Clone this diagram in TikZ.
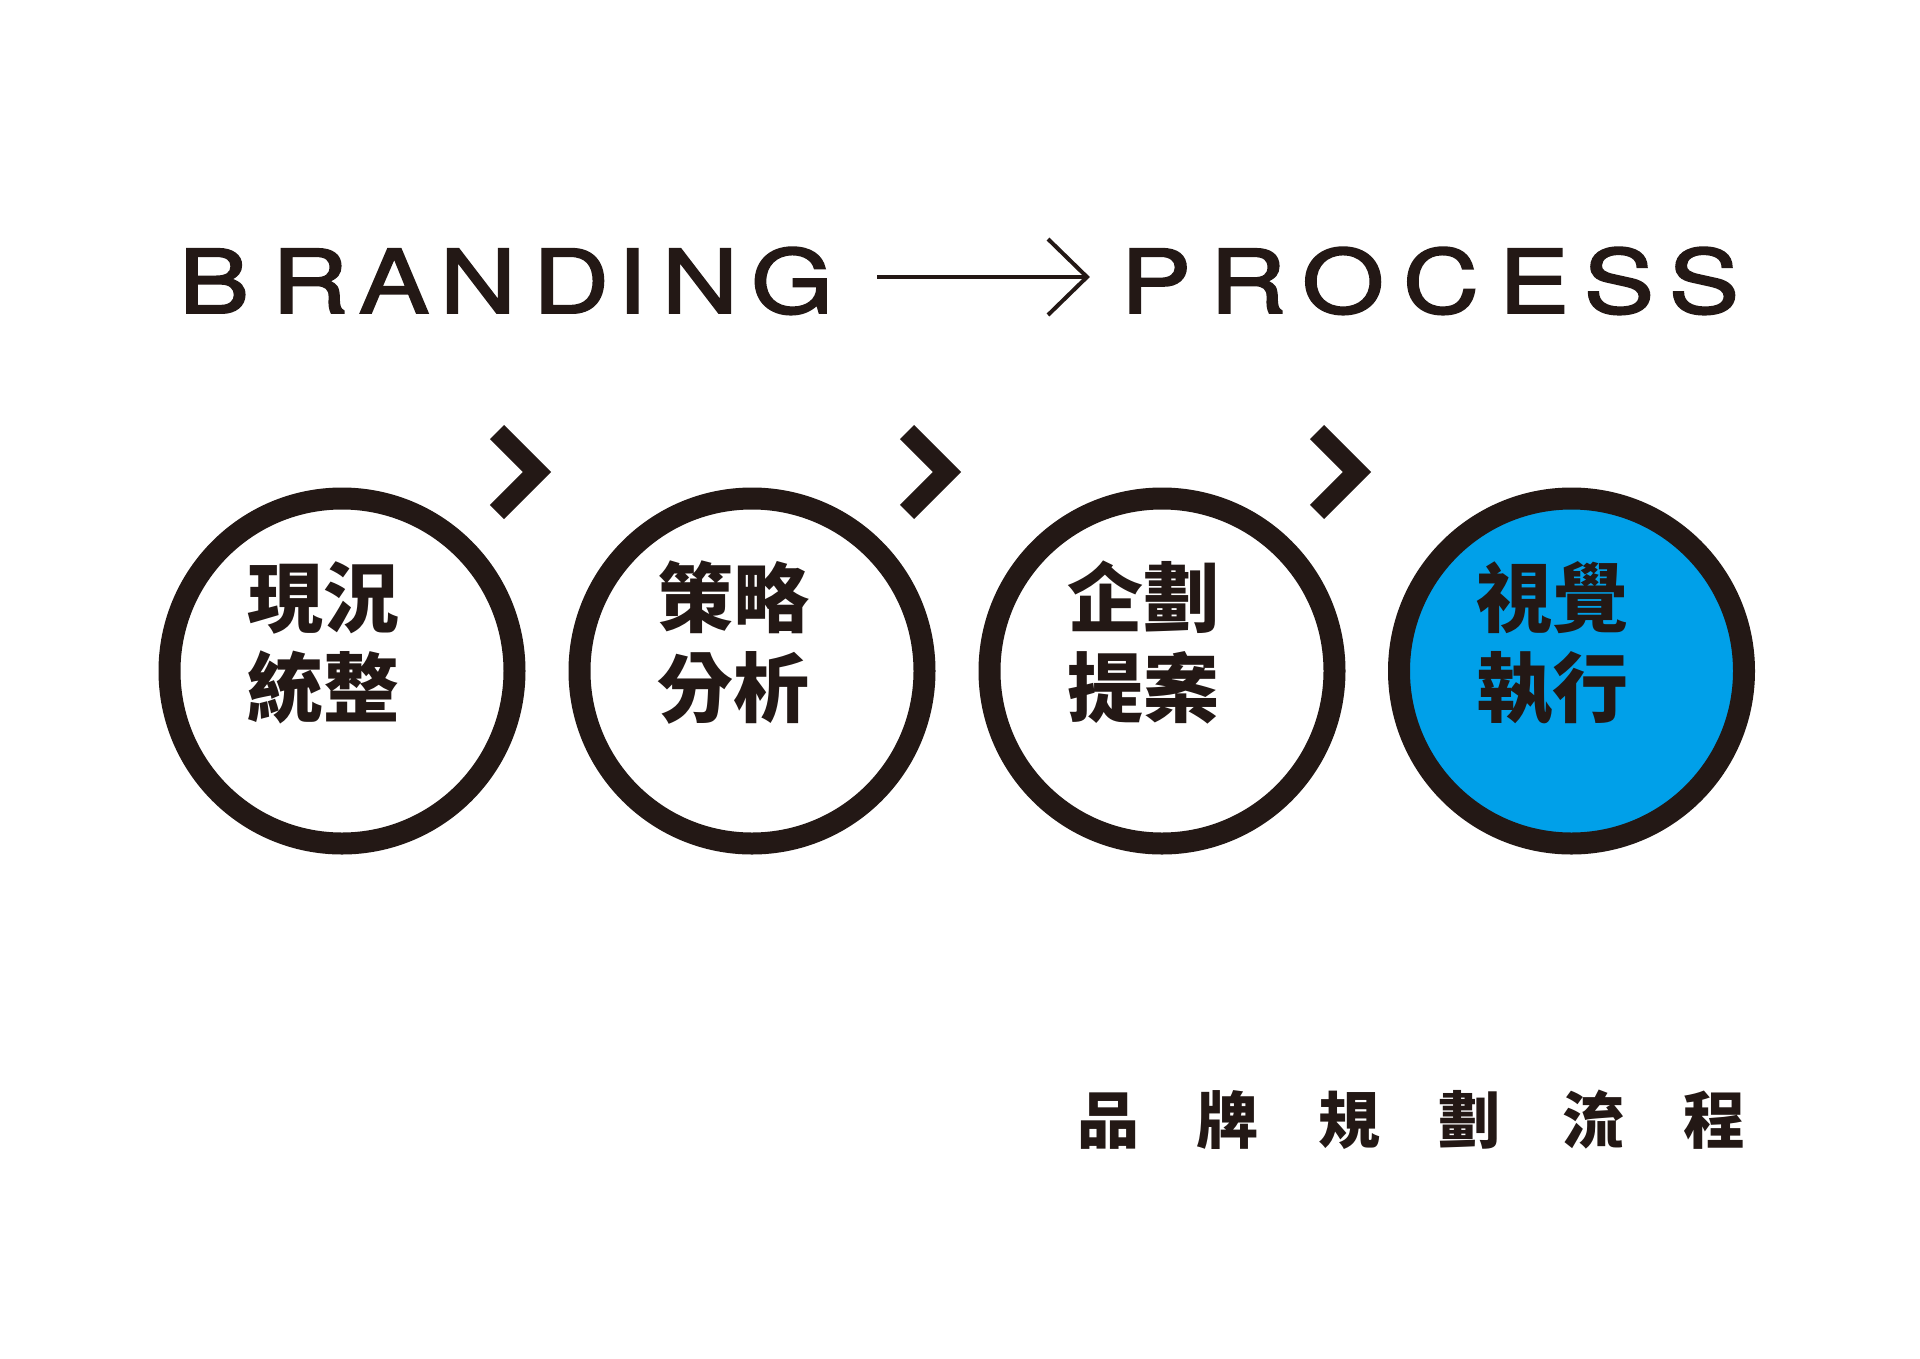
\documentclass[tikz,border=0pt]{standalone}
\usepackage{fontspec}
\usetikzlibrary{calc}
\newfontfamily\cjk{Noto Sans CJK TC}
\newfontfamily\wide{TeX Gyre Heros}[FakeStretch=1.2,FakeBold=2.2]
\definecolor{ink}{HTML}{231815}
\definecolor{bluefill}{HTML}{00A0E9}
\tikzset{
  ring/.style={circle, draw=ink, line width=22pt, minimum size=345pt, inner sep=0pt, fill=white},
  bluering/.style={ring, fill=bluefill},
  chev/.style={draw=ink, line width=20pt, line cap=butt, line join=miter},
  lat/.style={inner sep=0pt, anchor=base, text=ink, font=\wide\fontsize{88}{88}\selectfont},
  lbl/.style={inner sep=0pt, anchor=base west, text=ink, font=\cjk\bfseries\fontsize{76}{90}\selectfont},
  foot/.style={inner sep=0pt, anchor=base, text=ink, font=\cjk\bfseries\fontsize{62}{62}\selectfont},
  arr/.style={draw=ink, line width=4pt}
}
\begin{document}
\begin{tikzpicture}[x=1pt,y=-1pt]
\useasboundingbox[fill=white] (0,0) rectangle (1920,1358);
% heading
\foreach \ch/\xx [count=\i] in {B/214,R/310,A/394,N/478,D/571,I/632,N/700,G/792}
  \node[lat] (h\i) at (\xx,313) {\ch};
\foreach \ch/\xx [count=\i] in {P/1156,R/1248,O/1343,C/1441,E/1534,S/1619,S/1704}
  \node[lat] (p\i) at (\xx,313) {\ch};
\coordinate (as) at (877,277);
\coordinate (at) at (1087,277);
\draw[arr] (as) -- (at);
\draw[arr, line join=miter] ($(at)+(-39,-38)$) -- (at) -- ($(at)+(-39,38)$);
% circles
\node[ring] (c1) at (342,671) {};
\node[ring] (c2) at (752,671) {};
\node[ring] (c3) at (1162,671) {};
\node[bluering] (c4) at (1571.5,671) {};
% chevrons
\foreach \c in {c1,c2,c3}
  \draw[chev] ($(\c.center)+(155,-239)$) -- ($(\c.center)+(195,-199)$) -- ($(\c.center)+(155,-159)$);
% labels
\foreach \c/\la/\lb in {c1/現況/統整, c2/策略/分析, c3/企劃/提案, c4/視覺/執行}{
  \node[lbl] (\c a) at ($(\c.center)+(-95,-45)$) {\la};
  \node[lbl] (\c b) at ($(\c.center)+(-95,45)$) {\lb};
}
% footer
\foreach \ch/\xx [count=\i] in {品/1108,牌/1227,規/1349,劃/1469,流/1593,程/1714}
  \node[foot] (f\i) at (\xx,1143) {\ch};
\end{tikzpicture}
\end{document}
